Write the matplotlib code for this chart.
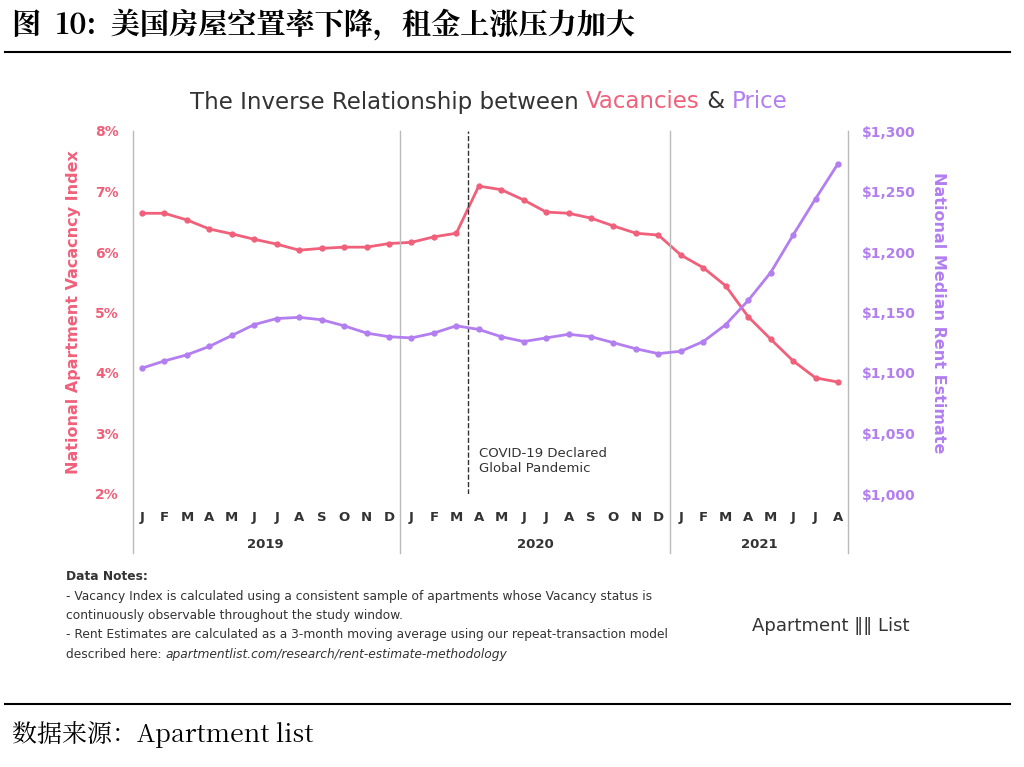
import matplotlib
matplotlib.use("Agg")
import matplotlib.pyplot as plt
import numpy as np

months = list("JFMAMJJASOND")*2 + list("JFMAMJJA")
years = ["2019", "2020", "2021"]
vacancy = [6.64,6.64,6.53,6.38,6.30,6.21,6.13,6.03,6.06,6.08,6.08,6.14,
           6.16,6.25,6.31,7.09,7.03,6.86,6.66,6.64,6.56,6.43,6.31,6.28,
           5.95,5.74,5.44,4.93,4.56,4.20,3.92,3.85]
rent = [1104,1110,1115,1122,1131,1140,1145,1146,1144,1139,1133,1130,
        1129,1133,1139,1136,1130,1126,1129,1132,1130,1125,1120,1116,
        1118,1126,1140,1160,1183,1214,1244,1273]

RED = "#f0607a"; PUR = "#b27ef0"
plt.rcParams['font.family'] = ['DejaVu Sans']
SERIF = ['Noto Serif CJK SC', 'Noto Sans CJK SC', 'DejaVu Serif']

W, H = 1024, 767
fig = plt.figure(figsize=(W/100, H/100), dpi=100)
def fx(p): return p/W
def fy(p): return 1-p/H

fig.text(fx(12), fy(25), "图  10:  美国房屋空置率下降，租金上涨压力加大", fontsize=21,
         fontweight='bold', va='center', ha='left', family=SERIF)
fig.add_artist(plt.Line2D([fx(5), fx(1010)], [fy(52), fy(52)], color='k', lw=1.5))
fig.add_artist(plt.Line2D([fx(5), fx(1010)], [fy(704), fy(704)], color='k', lw=1.5))
fig.text(fx(12), fy(735), "数据来源：Apartment list", fontsize=18, va='center', ha='left', family=SERIF)

renderer = fig.canvas.get_renderer()
xpos = 190
for txt, col in [("The Inverse Relationship between ", '#333333'), ("Vacancies", RED),
                 (" & ", '#333333'), ("Price", PUR)]:
    t = fig.text(fx(xpos), fy(102), txt, fontsize=16.5, color=col, va='center')
    xpos += t.get_window_extent(renderer).width

n = len(vacancy)
x = np.arange(n)
step = (838-142)/31
x0 = -(142-133)/step
x1 = 31 + (848-838)/step
ax = fig.add_axes([fx(133), fy(494), fx(848-133), (494-131)/H])
ax.set_xlim(x0, x1)
ax.set_ylim(2, 8)
ax.plot(x, vacancy, color=RED, lw=2, marker='o', ms=3.5)
ax2 = ax.twinx()
ax2.set_ylim(1000, 1300)
ax2.plot(x, rent, color=PUR, lw=2, marker='o', ms=3.5)
for a in (ax, ax2):
    for s in a.spines.values(): s.set_visible(False)
ax.set_yticks(np.arange(2, 9, 1))
ax.set_yticklabels([f"{v}%" for v in range(2, 9)], color=RED, fontsize=10, fontweight='bold')
ax2.set_yticks(np.arange(1000, 1301, 50))
ax2.set_yticklabels([f"${v:,}" for v in range(1000, 1301, 50)], color=PUR, fontsize=10, fontweight='bold')
ax.tick_params(length=0, pad=10); ax2.tick_params(length=0, pad=10)
ax.set_xticks(x)
ax.set_xticklabels(months, fontsize=9.5, fontweight='bold', color='#333333')
ax.tick_params(axis='x', pad=12)
ax.set_ylabel("National Apartment Vacacncy Index", color=RED, fontsize=11.5, fontweight='bold', labelpad=10)
ax2.set_ylabel("National Median Rent Estimate", color=PUR, fontsize=11.5, fontweight='bold', rotation=270, labelpad=22)
ybot = 2 - (553-494)/60.5
for b in [x0, 11.5, 23.5, x1]:
    ax.plot([b, b], [8, ybot], color='#bbbbbb', lw=1, clip_on=False)
for yi, c in zip(years, [5.5, 17.5, 27.5]):
    ax.text(c, 2 - 50/60.5, yi, ha='center', va='center', fontsize=9.5, fontweight='bold', color='#333333')
ax.axvline(14.5, color='#333333', ls='--', lw=1)
ax.text(15, 2.55, "COVID-19 Declared\nGlobal Pandemic", fontsize=9.5, color='#333333', va='center')

notes = ["Data Notes:",
         "- Vacancy Index is calculated using a consistent sample of apartments whose Vacancy status is",
         "continuously observable throughout the study window.",
         "- Rent Estimates are calculated as a 3-month moving average using our repeat-transaction model",
         "described here: "]
for i, l in enumerate(notes):
    t = fig.text(fx(66), fy(577 + i*19.3), l, fontsize=8.8, color='#333333', va='center',
                 fontweight='bold' if i == 0 else 'normal')
wd = t.get_window_extent(renderer).width
fig.text(fx(66 + wd), fy(577 + 4*19.3), "apartmentlist.com/research/rent-estimate-methodology", fontsize=8.8,
         color='#333333', va='center', style='italic')
fig.text(fx(752), fy(626), "Apartment \u2016\u2016 List", fontsize=13, color='#333333', va='center')
fig.savefig("out.png", dpi=100)
